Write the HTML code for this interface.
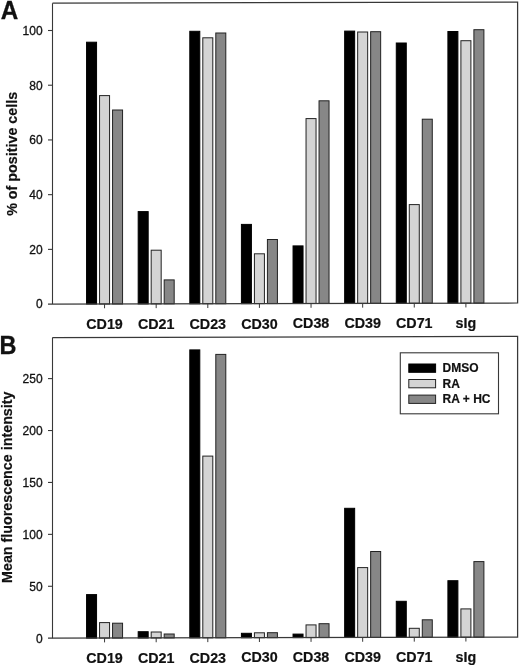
<!DOCTYPE html>
<html><head><meta charset="utf-8"><style>
html,body{margin:0;padding:0;background:#fff;}
svg{display:block;will-change:transform;}
text{font-family:"Liberation Sans",sans-serif;fill:#111;stroke:#111;stroke-width:0.3px;}
.tl{font-size:12px;}
.xl{font-size:14.3px;font-weight:bold;stroke-width:0.2px;}
.yl{font-size:14.3px;font-weight:bold;stroke-width:0.2px;}
.pl{font-size:25px;font-weight:bold;}
.lg{font-size:12px;font-weight:bold;stroke-width:0.2px;}
</style></head><body>
<svg width="520" height="667" viewBox="0 0 520 667">
<rect width="520" height="667" fill="#fff"/>
<rect x="86.56" y="42.20" width="10" height="261.81" fill="#000" stroke="#000" stroke-width="1"/>
<rect x="99.56" y="95.60" width="10" height="208.38" fill="#d4d4d4" stroke="#222" stroke-width="1"/>
<rect x="112.56" y="110.00" width="10" height="193.95" fill="#878787" stroke="#222" stroke-width="1"/>
<rect x="138.18" y="211.60" width="10" height="92.29" fill="#000" stroke="#000" stroke-width="1"/>
<rect x="151.18" y="250.20" width="10" height="53.65" fill="#d4d4d4" stroke="#222" stroke-width="1"/>
<rect x="164.18" y="279.90" width="10" height="23.92" fill="#878787" stroke="#222" stroke-width="1"/>
<rect x="189.80" y="31.30" width="10" height="272.46" fill="#000" stroke="#000" stroke-width="1"/>
<rect x="202.80" y="37.80" width="10" height="265.93" fill="#d4d4d4" stroke="#222" stroke-width="1"/>
<rect x="215.80" y="33.00" width="10" height="270.70" fill="#878787" stroke="#222" stroke-width="1"/>
<rect x="241.42" y="224.40" width="10" height="79.24" fill="#000" stroke="#000" stroke-width="1"/>
<rect x="254.42" y="253.80" width="10" height="49.81" fill="#d4d4d4" stroke="#222" stroke-width="1"/>
<rect x="267.42" y="239.50" width="10" height="64.08" fill="#878787" stroke="#222" stroke-width="1"/>
<rect x="293.04" y="245.90" width="10" height="57.62" fill="#000" stroke="#000" stroke-width="1"/>
<rect x="306.04" y="118.60" width="10" height="184.89" fill="#d4d4d4" stroke="#222" stroke-width="1"/>
<rect x="319.04" y="100.80" width="10" height="202.66" fill="#878787" stroke="#222" stroke-width="1"/>
<rect x="344.66" y="31.10" width="10" height="272.30" fill="#000" stroke="#000" stroke-width="1"/>
<rect x="357.66" y="32.00" width="10" height="271.37" fill="#d4d4d4" stroke="#222" stroke-width="1"/>
<rect x="370.66" y="31.70" width="10" height="271.64" fill="#878787" stroke="#222" stroke-width="1"/>
<rect x="396.28" y="43.00" width="10" height="260.27" fill="#000" stroke="#000" stroke-width="1"/>
<rect x="409.28" y="204.60" width="10" height="98.64" fill="#d4d4d4" stroke="#222" stroke-width="1"/>
<rect x="422.28" y="119.20" width="10" height="184.01" fill="#878787" stroke="#222" stroke-width="1"/>
<rect x="447.90" y="31.50" width="10" height="271.65" fill="#000" stroke="#000" stroke-width="1"/>
<rect x="460.90" y="40.70" width="10" height="262.42" fill="#d4d4d4" stroke="#222" stroke-width="1"/>
<rect x="473.90" y="29.70" width="10" height="273.39" fill="#878787" stroke="#222" stroke-width="1"/>
<path d="M52.50 3.20 L517.60 2.10 L517.60 303.00 L48 304.10" fill="none" stroke="#383838" stroke-width="1.25" stroke-linejoin="miter"/>
<line x1="52.50" y1="3.20" x2="52.50" y2="304.10" stroke="#383838" stroke-width="1.1"/>
<text x="42.6" y="308.40" text-anchor="end" class="tl">0</text>
<line x1="48" y1="249.38" x2="52.50" y2="249.38" stroke="#383838" stroke-width="1.1"/>
<text x="42.6" y="253.68" text-anchor="end" class="tl">20</text>
<line x1="48" y1="194.66" x2="52.50" y2="194.66" stroke="#383838" stroke-width="1.1"/>
<text x="42.6" y="198.96" text-anchor="end" class="tl">40</text>
<line x1="48" y1="139.94" x2="52.50" y2="139.94" stroke="#383838" stroke-width="1.1"/>
<text x="42.6" y="144.24" text-anchor="end" class="tl">60</text>
<line x1="48" y1="85.22" x2="52.50" y2="85.22" stroke="#383838" stroke-width="1.1"/>
<text x="42.6" y="89.52" text-anchor="end" class="tl">80</text>
<line x1="48" y1="30.50" x2="52.50" y2="30.50" stroke="#383838" stroke-width="1.1"/>
<text x="42.6" y="34.80" text-anchor="end" class="tl">100</text>
<line x1="104.56" y1="303.98" x2="104.56" y2="308.28" stroke="#383838" stroke-width="1"/>
<text x="104.56" y="328.81" text-anchor="middle" class="xl">CD19</text>
<line x1="156.18" y1="303.85" x2="156.18" y2="308.15" stroke="#383838" stroke-width="1"/>
<text x="156.18" y="328.73" text-anchor="middle" class="xl">CD21</text>
<line x1="207.80" y1="303.73" x2="207.80" y2="308.03" stroke="#383838" stroke-width="1"/>
<text x="207.80" y="328.64" text-anchor="middle" class="xl">CD23</text>
<line x1="259.42" y1="303.61" x2="259.42" y2="307.91" stroke="#383838" stroke-width="1"/>
<text x="259.42" y="328.56" text-anchor="middle" class="xl">CD30</text>
<line x1="311.04" y1="303.49" x2="311.04" y2="307.79" stroke="#383838" stroke-width="1"/>
<text x="311.04" y="328.47" text-anchor="middle" class="xl">CD38</text>
<line x1="362.66" y1="303.37" x2="362.66" y2="307.67" stroke="#383838" stroke-width="1"/>
<text x="362.66" y="328.39" text-anchor="middle" class="xl">CD39</text>
<line x1="414.28" y1="303.24" x2="414.28" y2="307.54" stroke="#383838" stroke-width="1"/>
<text x="414.28" y="328.30" text-anchor="middle" class="xl">CD71</text>
<line x1="465.90" y1="303.12" x2="465.90" y2="307.42" stroke="#383838" stroke-width="1"/>
<text x="465.90" y="328.22" text-anchor="middle" class="xl">sIg</text>
<text transform="translate(0.65 18.6) scale(0.97 1)" class="pl">A</text>
<text transform="translate(16.5 153.85) rotate(-90)" text-anchor="middle" class="yl">% of positive cells</text>
<rect x="86.56" y="594.60" width="10" height="43.51" fill="#000" stroke="#000" stroke-width="1"/>
<rect x="99.56" y="622.60" width="10" height="15.48" fill="#d4d4d4" stroke="#222" stroke-width="1"/>
<rect x="112.56" y="623.20" width="10" height="14.85" fill="#878787" stroke="#222" stroke-width="1"/>
<rect x="138.18" y="631.70" width="10" height="6.29" fill="#000" stroke="#000" stroke-width="1"/>
<rect x="151.18" y="632.00" width="10" height="5.95" fill="#d4d4d4" stroke="#222" stroke-width="1"/>
<rect x="164.18" y="634.00" width="10" height="3.92" fill="#878787" stroke="#222" stroke-width="1"/>
<rect x="189.80" y="349.90" width="10" height="287.96" fill="#000" stroke="#000" stroke-width="1"/>
<rect x="202.80" y="456.10" width="10" height="181.73" fill="#d4d4d4" stroke="#222" stroke-width="1"/>
<rect x="215.80" y="354.40" width="10" height="283.40" fill="#878787" stroke="#222" stroke-width="1"/>
<rect x="241.42" y="633.30" width="10" height="4.44" fill="#000" stroke="#000" stroke-width="1"/>
<rect x="254.42" y="632.80" width="10" height="4.91" fill="#d4d4d4" stroke="#222" stroke-width="1"/>
<rect x="267.42" y="632.70" width="10" height="4.98" fill="#878787" stroke="#222" stroke-width="1"/>
<rect x="293.04" y="634.10" width="10" height="3.52" fill="#000" stroke="#000" stroke-width="1"/>
<rect x="306.04" y="624.90" width="10" height="12.69" fill="#d4d4d4" stroke="#222" stroke-width="1"/>
<rect x="319.04" y="623.70" width="10" height="13.86" fill="#878787" stroke="#222" stroke-width="1"/>
<rect x="344.66" y="508.30" width="10" height="129.20" fill="#000" stroke="#000" stroke-width="1"/>
<rect x="357.66" y="567.60" width="10" height="69.87" fill="#d4d4d4" stroke="#222" stroke-width="1"/>
<rect x="370.66" y="551.50" width="10" height="85.94" fill="#878787" stroke="#222" stroke-width="1"/>
<rect x="396.28" y="601.30" width="10" height="36.07" fill="#000" stroke="#000" stroke-width="1"/>
<rect x="409.28" y="628.30" width="10" height="9.04" fill="#d4d4d4" stroke="#222" stroke-width="1"/>
<rect x="422.28" y="619.80" width="10" height="17.51" fill="#878787" stroke="#222" stroke-width="1"/>
<rect x="447.90" y="580.70" width="10" height="56.55" fill="#000" stroke="#000" stroke-width="1"/>
<rect x="460.90" y="608.90" width="10" height="28.32" fill="#d4d4d4" stroke="#222" stroke-width="1"/>
<rect x="473.90" y="561.60" width="10" height="75.59" fill="#878787" stroke="#222" stroke-width="1"/>
<path d="M52.50 337.50 L517.60 336.40 L517.60 637.10 L48 638.20" fill="none" stroke="#383838" stroke-width="1.25" stroke-linejoin="miter"/>
<line x1="52.50" y1="337.50" x2="52.50" y2="638.20" stroke="#383838" stroke-width="1.1"/>
<text x="42.6" y="642.50" text-anchor="end" class="tl">0</text>
<line x1="48" y1="586.28" x2="52.50" y2="586.28" stroke="#383838" stroke-width="1.1"/>
<text x="42.6" y="590.58" text-anchor="end" class="tl">50</text>
<line x1="48" y1="534.36" x2="52.50" y2="534.36" stroke="#383838" stroke-width="1.1"/>
<text x="42.6" y="538.66" text-anchor="end" class="tl">100</text>
<line x1="48" y1="482.44" x2="52.50" y2="482.44" stroke="#383838" stroke-width="1.1"/>
<text x="42.6" y="486.74" text-anchor="end" class="tl">150</text>
<line x1="48" y1="430.52" x2="52.50" y2="430.52" stroke="#383838" stroke-width="1.1"/>
<text x="42.6" y="434.82" text-anchor="end" class="tl">200</text>
<line x1="48" y1="378.60" x2="52.50" y2="378.60" stroke="#383838" stroke-width="1.1"/>
<text x="42.6" y="382.90" text-anchor="end" class="tl">250</text>
<line x1="104.56" y1="638.08" x2="104.56" y2="642.38" stroke="#383838" stroke-width="1"/>
<text x="104.56" y="662.71" text-anchor="middle" class="xl">CD19</text>
<line x1="156.18" y1="637.95" x2="156.18" y2="642.25" stroke="#383838" stroke-width="1"/>
<text x="156.18" y="662.63" text-anchor="middle" class="xl">CD21</text>
<line x1="207.80" y1="637.83" x2="207.80" y2="642.13" stroke="#383838" stroke-width="1"/>
<text x="207.80" y="662.54" text-anchor="middle" class="xl">CD23</text>
<line x1="259.42" y1="637.71" x2="259.42" y2="642.01" stroke="#383838" stroke-width="1"/>
<text x="259.42" y="662.46" text-anchor="middle" class="xl">CD30</text>
<line x1="311.04" y1="637.59" x2="311.04" y2="641.89" stroke="#383838" stroke-width="1"/>
<text x="311.04" y="662.37" text-anchor="middle" class="xl">CD38</text>
<line x1="362.66" y1="637.47" x2="362.66" y2="641.77" stroke="#383838" stroke-width="1"/>
<text x="362.66" y="662.29" text-anchor="middle" class="xl">CD39</text>
<line x1="414.28" y1="637.34" x2="414.28" y2="641.64" stroke="#383838" stroke-width="1"/>
<text x="414.28" y="662.20" text-anchor="middle" class="xl">CD71</text>
<line x1="465.90" y1="637.22" x2="465.90" y2="641.52" stroke="#383838" stroke-width="1"/>
<text x="465.90" y="662.12" text-anchor="middle" class="xl">sIg</text>
<text transform="translate(-0.4 354.1) scale(0.94 1)" class="pl">B</text>
<text transform="translate(11.8 487.25) rotate(-90)" text-anchor="middle" class="yl">Mean fluorescence intensity</text>
<rect x="400.3" y="352.8" width="98.2" height="61" fill="#fff" stroke="#383838" stroke-width="1.1"/>
<rect x="408.8" y="364.00" width="26.8" height="8.3" fill="#000" stroke="#000" stroke-width="1"/>
<text x="442.6" y="371.90" class="lg">DMSO</text>
<rect x="408.8" y="379.50" width="26.8" height="8.3" fill="#d4d4d4" stroke="#222" stroke-width="1"/>
<text x="442.6" y="387.80" class="lg">RA</text>
<rect x="408.8" y="395.10" width="26.8" height="8.3" fill="#878787" stroke="#222" stroke-width="1"/>
<text x="442.6" y="403.20" class="lg">RA + HC</text>
</svg>
</body></html>
